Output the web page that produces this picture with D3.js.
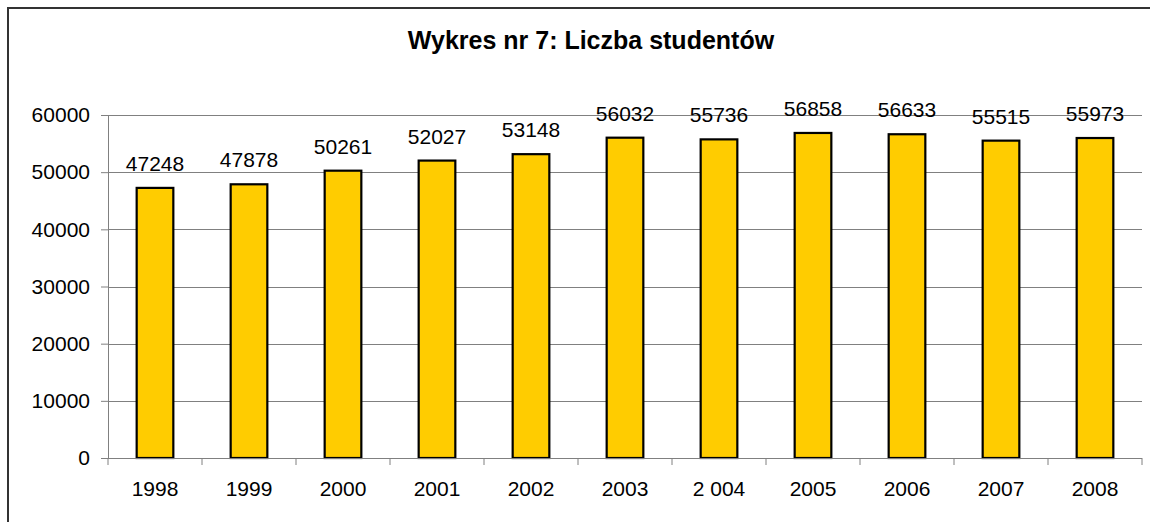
<!DOCTYPE html>
<html><head><meta charset="utf-8">
<script src="https://cdn.jsdelivr.net/npm/d3@7/dist/d3.min.js"></script>
<style>html,body{margin:0;padding:0;background:#fff;}svg{display:block;}</style>
</head><body>
<svg id="chart" width="1150" height="522"></svg>
<script>
const title = "Wykres nr 7: Liczba studentów";
const categories = ["1998","1999","2000","2001","2002","2003","2 004","2005","2006","2007","2008"];
const values = [47248,47878,50261,52027,53148,56032,55736,56858,56633,55515,55973];
const yTicks = [0,10000,20000,30000,40000,50000,60000];

(function(){
const svg = d3.select("#chart");
const font = "Arial, 'Liberation Sans', sans-serif";
const pL = 108, pR = 1142, pT = 115, pB = 458;

// outer chart border (only left/top visible)
svg.append("rect").attr("x",8).attr("y",8).attr("width",1300).attr("height",700)
  .attr("fill","none").attr("stroke","#333").attr("stroke-width",2);

const x = d3.scaleBand().domain(categories).range([pL,pR]).paddingInner(0).paddingOuter(0);
const y = d3.scaleLinear().domain([0,60000]).range([pB,pT]);

// gridlines
svg.append("g").selectAll("line").data(yTicks.filter(d=>d>0)).join("line")
  .attr("x1",pL).attr("x2",pR).attr("y1",d=>Math.round(y(d))+0.5).attr("y2",d=>Math.round(y(d))+0.5)
  .attr("stroke","#808080").attr("stroke-width",1);

// bars
const bw = x.bandwidth()*0.39;
svg.append("g").selectAll("rect").data(values).join("rect")
  .attr("x",(d,i)=>x(categories[i])+x.bandwidth()/2-bw/2)
  .attr("y",d=>y(d)).attr("width",bw).attr("height",d=>y(0)-y(d))
  .attr("fill","#FFCC00").attr("stroke","#000").attr("stroke-width",2.2);

// value labels
svg.append("g").selectAll("text").data(values).join("text")
  .attr("x",(d,i)=>x(categories[i])+x.bandwidth()/2)
  .attr("y",d=>y(d)-17)
  .attr("text-anchor","middle").attr("font-family",font).attr("font-size",21)
  .attr("fill","#000").text(d=>d);

// y axis
const yAxis = d3.axisLeft(y).tickValues(yTicks).tickSize(7).tickPadding(11).tickFormat(d=>String(d));
const gy = svg.append("g").attr("transform",`translate(${pL},0)`).call(yAxis);
gy.select(".domain").attr("stroke","#808080").attr("d",`M0.5,${pB}V${pT}`);
gy.selectAll(".tick line").attr("stroke","#808080");
gy.selectAll(".tick text").attr("font-family",font).attr("font-size",21).attr("fill","#000");

// x axis
const xb = d3.scaleLinear().domain([0,categories.length]).range([pL,pR]);
const gx = svg.append("g").attr("transform",`translate(0,${pB})`);
gx.append("line").attr("x1",pL-7).attr("x2",pR).attr("y1",0.5).attr("y2",0.5).attr("stroke","#808080");
gx.selectAll("line.t").data(d3.range(categories.length+1)).join("line").attr("class","t")
  .attr("x1",d=>xb(d)).attr("x2",d=>xb(d)).attr("y1",0).attr("y2",7).attr("stroke","#808080");
gx.selectAll("text").data(categories).join("text")
  .attr("x",d=>x(d)+x.bandwidth()/2).attr("y",38)
  .attr("text-anchor","middle").attr("font-family",font).attr("font-size",21).attr("fill","#000")
  .text(d=>d);

// title
svg.append("text").attr("x",591).attr("y",48.5).attr("text-anchor","middle")
  .attr("font-family",font).attr("font-size",25).attr("font-weight","bold").text(title);
})();
</script>
</body></html>
